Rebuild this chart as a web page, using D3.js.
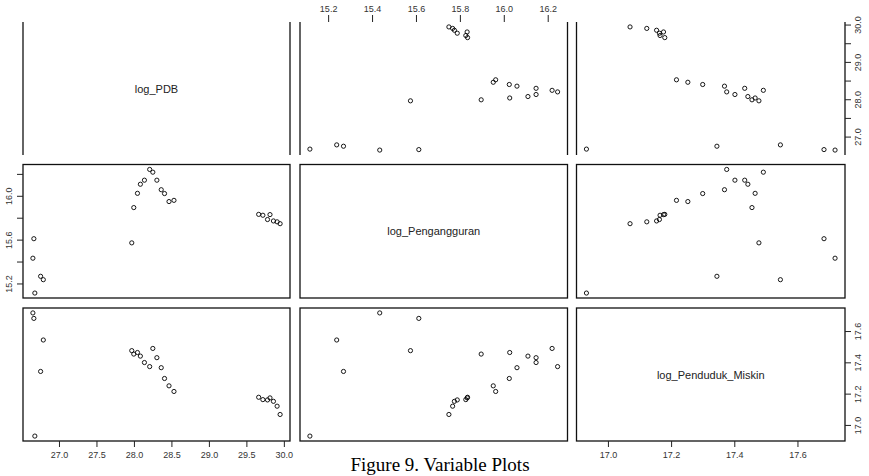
<!DOCTYPE html>
<html><head><meta charset="utf-8">
<script src="https://cdn.jsdelivr.net/npm/d3@7"></script>
<style>body{margin:0;background:#fff}svg{display:block}</style>
</head><body>
<svg id="c" width="869" height="476"></svg>
<script>
const varNames = ["log_PDB", "log_Pengangguran", "log_Penduduk_Miskin"];
const logPDB = [26.652,26.665,26.678,26.755,26.791,27.971,27.998,28.047,28.086,28.140,28.210,28.252,28.306,28.364,28.408,28.468,28.534,29.664,29.720,29.782,29.815,29.861,29.910,29.950];
const logPengangguran = [15.435,15.613,15.117,15.270,15.239,15.575,15.897,16.027,16.110,16.147,16.245,16.220,16.147,16.060,16.025,15.952,15.963,15.835,15.827,15.788,15.833,15.775,15.767,15.750];
const logPendudukMiskin = [17.719,17.684,16.932,17.345,17.546,17.478,17.456,17.466,17.443,17.402,17.376,17.492,17.433,17.369,17.300,17.253,17.217,17.180,17.165,17.163,17.176,17.154,17.123,17.070];
const ticksPDB = [27.0,27.5,28.0,28.5,29.0,29.5,30.0];
const ticksPeng = [15.2,15.4,15.6,15.8,16.0,16.2];
const ticksPM = [17.0,17.2,17.4,17.6];
const caption = "Figure 9. Variable Plots";

const data = [logPDB, logPengangguran, logPendudukMiskin];
const cols = [[23,290],[300,567.5],[576.5,845]];
const rows = [[22,155],[164.5,298],[308,441]];
const svg = d3.select("#c");
const fmt = d3.format(".1f");

function dom(v){const e=d3.extent(v);const p=(e[1]-e[0])*0.04;return [e[0]-p,e[1]+p];}
const xs = data.map((v,j)=>d3.scaleLinear().domain(dom(v)).range(cols[j]));
const ys = data.map((v,i)=>d3.scaleLinear().domain(dom(v)).range([rows[i][1],rows[i][0]]));

for(let i=0;i<3;i++){
  for(let j=0;j<3;j++){
    const [x0,x1]=cols[j],[y0,y1]=rows[i];
    const g=svg.append("g");
    if(i===0){
      g.append("line").attr("x1",x0).attr("x2",x0).attr("y1",y0).attr("y2",y1).attr("stroke","#111").attr("stroke-width",1.3);
      g.append("line").attr("x1",x1).attr("x2",x1).attr("y1",y0).attr("y2",y1).attr("stroke","#111").attr("stroke-width",1.3);
    } else {
      g.append("rect").attr("x",x0).attr("y",y0).attr("width",x1-x0).attr("height",y1-y0)
        .attr("fill","none").attr("stroke","#111").attr("stroke-width",1.3);
    }
    if(i===j){
      g.append("text").attr("x",(x0+x1)/2).attr("y",(y0+y1)/2+4).attr("text-anchor","middle")
        .attr("font-family","Liberation Sans, Arial, sans-serif").attr("font-size",11).attr("fill","#222")
        .text(varNames[i]);
    } else {
      const xv=data[j], yv=data[i];
      g.selectAll("circle").data(xv.map((d,k)=>[d,yv[k]])).join("circle")
        .attr("cx",d=>xs[j](d[0])).attr("cy",d=>ys[i](d[1])).attr("r",2.1)
        .attr("fill","none").attr("stroke","#000").attr("stroke-width",0.9);
    }
  }
}

const tf = "Liberation Sans, Arial, sans-serif";
// top axis (col 2)
{
  const ax = d3.axisTop(xs[1]).tickValues(ticksPeng).tickFormat(fmt).tickSize(7).tickPadding(3);
  const g = svg.append("g").attr("transform",`translate(0,${rows[0][0]})`).call(ax);
  g.select(".domain").remove();
  g.selectAll("text").attr("font-family",tf).attr("font-size",9).attr("fill","#333");
  g.selectAll("line").attr("stroke","#222");
}
// bottom axis col 1
{
  const ax = d3.axisBottom(xs[0]).tickValues(ticksPDB).tickFormat(fmt).tickSize(6).tickPadding(5);
  const g = svg.append("g").attr("transform",`translate(0,${rows[2][1]})`).call(ax);
  g.select(".domain").remove();
  g.selectAll("text").attr("font-family",tf).attr("font-size",9).attr("fill","#333");
  g.selectAll("line").attr("stroke","#222");
}
// bottom axis col 3
{
  const ax = d3.axisBottom(xs[2]).tickValues(ticksPM).tickFormat(fmt).tickSize(6).tickPadding(5);
  const g = svg.append("g").attr("transform",`translate(0,${rows[2][1]})`).call(ax);
  g.select(".domain").remove();
  g.selectAll("text").attr("font-family",tf).attr("font-size",9).attr("fill","#333");
  g.selectAll("line").attr("stroke","#222");
}
// vertical axes with rotated labels
function vAxis(scale, ticks, labelled, side, xpos){
  const g = svg.append("g");
  const dir = side==="right"?1:-1;
  g.selectAll("line").data(ticks).join("line")
    .attr("x1",xpos).attr("x2",xpos+dir*6).attr("y1",d=>scale(d)).attr("y2",d=>scale(d)).attr("stroke","#222");
  g.selectAll("text").data(ticks.filter(labelled)).join("text")
    .attr("transform",d=>`translate(${xpos+dir*(side==="right"?13:14)},${scale(d)}) rotate(-90)`)
    .attr("text-anchor","middle").attr("dy","0.35em")
    .attr("font-family",tf).attr("font-size",9).attr("fill","#333").text(fmt);
}
vAxis(ys[0], ticksPDB, d=>Math.abs(d-Math.round(d))<1e-9, "right", cols[2][1]);
vAxis(ys[1], ticksPeng, d=>[15.2,15.6,16.0].some(t=>Math.abs(t-d)<1e-9), "left", cols[0][0]);
vAxis(ys[2], ticksPM, d=>true, "right", cols[2][1]);

svg.append("text").attr("x",440).attr("y",471).attr("text-anchor","middle")
  .attr("font-family","Liberation Serif, Times New Roman, serif").attr("font-size",19).attr("fill","#000")
  .text(caption);
</script>
</body></html>
